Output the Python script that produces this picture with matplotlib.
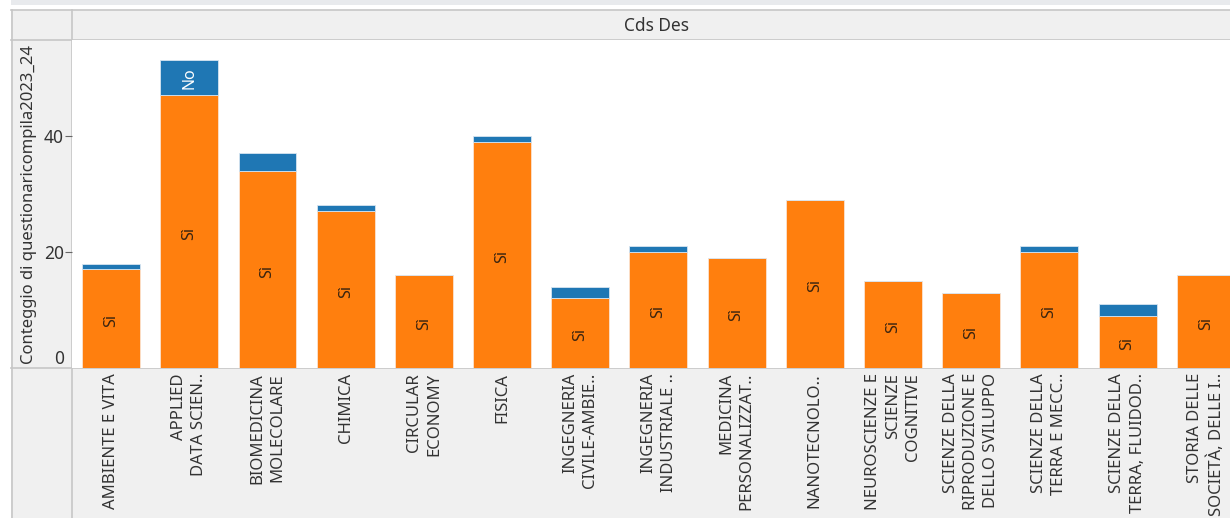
import matplotlib.pyplot as plt
from matplotlib.patches import Rectangle

# Data
categories = ['AMBIENTE E VITA', 'APPLIED\nDATA SCIEN..', 'BIOMEDICINA\nMOLECOLARE', 'CHIMICA',
              'CIRCULAR\nECONOMY', 'FISICA', 'INGEGNERIA\nCIVILE-AMBIE..', 'INGEGNERIA\nINDUSTRIALE ..',
              'MEDICINA\nPERSONALIZZAT..', 'NANOTECNOLO..', 'NEUROSCIENZE E\nSCIENZE\nCOGNITIVE',
              'SCIENZE DELLA\nRIPRODUZIONE E\nDELLO SVILUPPO', 'SCIENZE DELLA\nTERRA E MECC..',
              'SCIENZE DELLA\nTERRA, FLUIDOD..', 'STORIA DELLE\nSOCIETÀ, DELLE I..']
si = [17, 47, 34, 27, 16, 39, 12, 20, 19, 29, 15, 13, 20, 9, 16]
no = [1, 6, 3, 1, 0, 1, 2, 1, 0, 0, 0, 0, 1, 2, 0]

W, H = 1230, 518
fig = plt.figure(figsize=(W / 100, H / 100), dpi=100)
fig.patch.set_facecolor('white')
font = 'Noto Sans'
txt = '#333333'
band = '#f0f0f0'
edge = '#c6c6c6'

def px(x0, y0, x1, y1):
    return [x0 / W, 1 - y1 / H, (x1 - x0) / W, (y1 - y0) / H]

# background panels (header, left column, bottom labels)
bg = fig.add_axes([0, 0, 1, 1])
bg.set_xlim(0, W)
bg.set_ylim(H, 0)
bg.axis('off')
bg.add_patch(Rectangle((11, 0), W - 11, 5, color='#e8eaed', lw=0))
bg.add_patch(Rectangle((11, 10), W - 11, 30, color=band, lw=0))
bg.add_patch(Rectangle((11, 40), 61, H - 40, color=band, lw=0))
bg.add_patch(Rectangle((72, 368), W - 72, H - 368, color=band, lw=0))
bg.plot([11, W], [10, 10], color=edge, lw=1.2)
bg.plot([11, W], [40, 40], color=edge, lw=1.2)
bg.plot([11, W], [368, 368], color=edge, lw=1.2)
bg.plot([12, 12], [10, H], color=edge, lw=1.2)
bg.plot([72, 72], [10, H], color=edge, lw=1.2)
bg.text((72 + W) / 2 + 6, 26, 'Cds Des', ha='center', va='center', fontsize=12.5, color=txt, family=font)
bg.text(29, 204, 'Conteggio di questionaricompila2023_24', rotation=90, ha='center', va='center',
        fontsize=12, color=txt, family=font)

# main chart
ax = fig.add_axes(px(72, 40, W, 368))
x = list(range(len(categories)))
ax.bar(x, si, width=0.74, color='#ff7f0e', edgecolor='#fbe3cf', linewidth=0.6)
ax.bar(x, no, width=0.74, bottom=si, color='#1f77b4', edgecolor='#d6e4f0', linewidth=0.6)
ax.set_xlim(-0.5, 14.31)
ax.set_ylim(0, 56.5)
for s in ax.spines.values():
    s.set_visible(False)
ax.set_xticks([])
ax.set_yticks([0, 20, 40])
ax.tick_params(axis='y', length=5, color='#666666', labelsize=12.5, labelcolor=txt, pad=1)
for lab in ax.get_yticklabels():
    lab.set_family(font)
ax.get_yticklabels()[0].set_va('bottom')
ax.yaxis.get_major_ticks()[0].tick1line.set_visible(False)

for i in x:
    ax.text(i, si[i] / 2 - 0.3, 'Sì', rotation=90, ha='center', va='center', fontsize=11.5,
            color='#3a2410', family=font)
    if no[i] >= 4:
        ax.text(i, si[i] + no[i] / 2, 'No', rotation=90, ha='center', va='center', fontsize=11.5,
                color='white', family=font)

# category labels below
for i, c in enumerate(categories):
    xf = ax.transData.transform((i, 0))[0]
    fig.text(xf / W, 1 - 373 / H, c, rotation=90, ha='center', va='top', multialignment='right',
             fontsize=12, color=txt, family=font, linespacing=1.35)

plt.savefig('out.png', dpi=100)
